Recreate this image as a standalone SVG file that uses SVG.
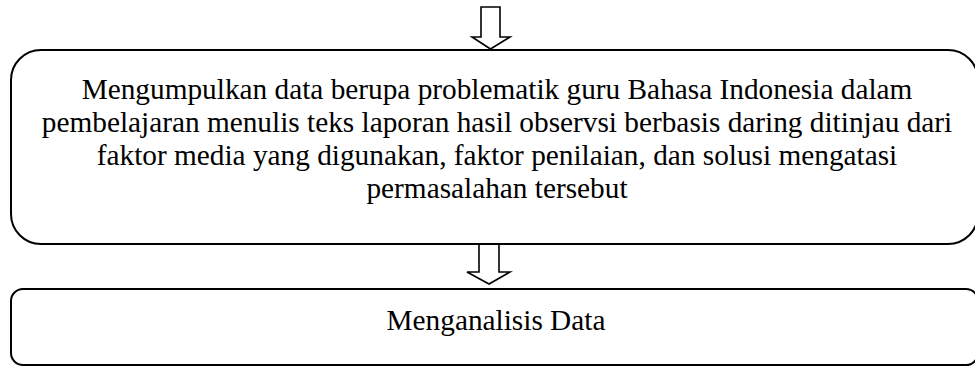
<svg xmlns="http://www.w3.org/2000/svg" width="975" height="367" viewBox="0 0 975 367">
<style>
.box{fill:#fff;stroke:#000;stroke-width:2}
.arr{fill:#fff;stroke:#000;stroke-width:1.6;stroke-linejoin:miter}
.t{font-size:29.3px;fill:#000;text-anchor:middle}
</style>
<rect width="975" height="367" fill="#fff"/>
<g id="connectors">
<polygon class="arr" points="481,7 500,7 500,37 510,37 490.5,49 472,37 481,37"/>
<polygon class="arr" points="479,244 499,244 499,272 510,272 489,284 467,272 479,272"/>
</g>
<g id="node1" font-family="'Liberation Serif', 'Times New Roman', serif">
<rect class="box" x="11" y="50" width="967" height="194" rx="30" ry="30"/>
<text class="t" x="497" y="99">Mengumpulkan data berupa problematik guru Bahasa Indonesia dalam</text>
<text class="t" x="497" y="132">pembelajaran menulis teks laporan hasil observsi berbasis daring ditinjau dari</text>
<text class="t" x="497" y="165">faktor media yang digunakan, faktor penilaian, dan solusi mengatasi</text>
<text class="t" x="497" y="198">permasalahan tersebut</text>
</g>
<g id="node2" font-family="'Liberation Serif', 'Times New Roman', serif">
<rect class="box" x="11" y="289" width="967" height="76" rx="12" ry="12"/>
<text class="t" x="496" y="330">Menganalisis Data</text>
</g>
</svg>
